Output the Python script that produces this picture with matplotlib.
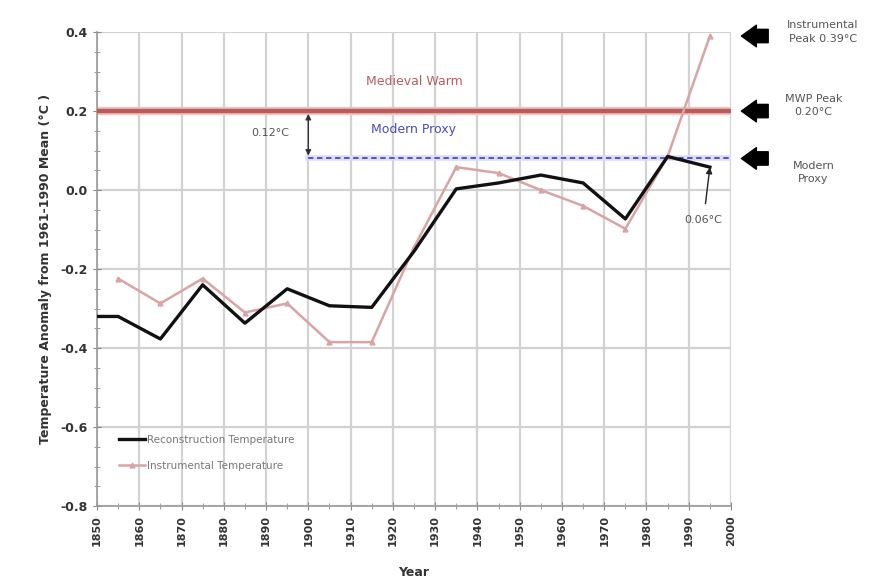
import matplotlib
import matplotlib.pyplot as plt
from matplotlib.ticker import MultipleLocator, FormatStrFormatter

matplotlib.use("Agg")

# data
recon_years = [1850, 1855, 1865, 1875, 1885, 1895, 1905, 1915, 1925, 1935, 1945, 1955, 1965, 1975, 1985, 1995]
recon_temp = [-0.32, -0.32, -0.377, -0.24, -0.337, -0.25, -0.293, -0.297, -0.155, 0.003, 0.018, 0.038, 0.018, -0.073, 0.085, 0.058]

instr_years = [1855, 1865, 1875, 1885, 1895, 1905, 1915, 1925, 1935, 1945, 1955, 1965, 1975, 1985, 1995]
instr_temp = [-0.224, -0.287, -0.224, -0.31, -0.287, -0.385, -0.385, -0.145, 0.058, 0.043, 0.0, -0.04, -0.098, 0.085, 0.39]

mwp_level = 0.20
modern_proxy = 0.08
proxy_start = 1900
instr_peak = 0.39
year_ticks = list(range(1850, 2001, 10))

RED = "#b85c5c"
PINK = "#d8a4a6"
BLUE = "#4a4ab8"
GRAY = "#555555"

fig = plt.figure(figsize=(8.76, 5.83), dpi=100)
ax = fig.add_axes([0.1107, 0.132, 0.7238, 0.813])

ax.set_xlim(1850, 2000)
ax.set_ylim(-0.8, 0.4)
ax.xaxis.set_major_locator(MultipleLocator(10))
ax.xaxis.set_minor_locator(MultipleLocator(5))
ax.yaxis.set_major_locator(MultipleLocator(0.2))
ax.yaxis.set_minor_locator(MultipleLocator(0.05))
ax.yaxis.set_major_formatter(FormatStrFormatter("%.1f"))
ax.set_xticks(year_ticks)
ax.set_xticklabels([str(y) for y in year_ticks], rotation=90, fontsize=8, fontweight="bold", color="#333333")
for lab in ax.get_yticklabels():
    lab.set_fontsize(9)
    lab.set_fontweight("bold")
    lab.set_color("#333333")

ax.grid(True, which="major", color="#d2d2d2", linewidth=1.6)
ax.set_axisbelow(True)
for side in ["top", "right"]:
    ax.spines[side].set_visible(False)
for side in ["left", "bottom"]:
    ax.spines[side].set_color("#999999")
    ax.spines[side].set_linewidth(1.2)
ax.tick_params(which="both", direction="inout", color="#888888")
ax.tick_params(which="major", length=6)
ax.tick_params(which="minor", length=4)

# reference lines
ax.axhline(mwp_level, color="#f4c4c4", linewidth=6, zorder=2)
ax.axhline(mwp_level, color=RED, linewidth=3.2, zorder=3)
ax.plot([proxy_start, 2000], [modern_proxy, modern_proxy], color="#dcdcf4", linewidth=4, zorder=2)
ax.plot([proxy_start, 2000], [modern_proxy, modern_proxy], color=BLUE, linewidth=1.3,
        linestyle=(0, (3, 2)), zorder=3)

ax.text(1925, 0.275, "Medieval Warm", color=RED, fontsize=9, ha="center", va="center")
ax.text(1925, 0.153, "Modern Proxy", color=BLUE, fontsize=9, ha="center", va="center")

# series
ax.plot(instr_years, instr_temp, color=PINK, linewidth=1.8, marker="^", markersize=3.5,
        label="Instrumental Temperature", zorder=4)
ax.plot(recon_years, recon_temp, color="#111111", linewidth=2.4, label="Reconstruction Temperature", zorder=5)

# 0.12 gap arrow
ax.annotate("", xy=(proxy_start, mwp_level), xytext=(proxy_start, modern_proxy),
            arrowprops=dict(arrowstyle="<|-|>", color="#333333", lw=1, mutation_scale=8), zorder=6)
ax.text(1891, 0.144, "0.12°C", color=GRAY, fontsize=8, ha="center", va="center")

# 0.06 annotation
ax.annotate("0.06°C", xy=(recon_years[-1], recon_temp[-1]), xytext=(1993.5, -0.075),
            fontsize=8, color=GRAY, ha="center", va="center",
            arrowprops=dict(arrowstyle="-|>", color="#222222", lw=1, mutation_scale=9,
                            shrinkA=6, shrinkB=0), zorder=6)

# right-hand pointers
right_marks = [
    (0.40, "Instrumental\nPeak 0.39°C", 1.145),
    (0.215, "MWP Peak\n0.20°C", 1.13),
    (0.045, "Modern\nProxy", 1.13),
]
arrow_levels = [instr_peak, mwp_level, modern_proxy]
for lvl in arrow_levels:
    ax.annotate("", xy=(1.012, lvl), xytext=(1.063, lvl),
                xycoords=("axes fraction", "data"), textcoords=("axes fraction", "data"),
                arrowprops=dict(arrowstyle="simple,head_width=1.3,head_length=0.9,tail_width=0.8",
                                color="black", mutation_scale=12), annotation_clip=False)
for lvl, txt, xpos in right_marks:
    ax.text(xpos, lvl, txt, transform=ax.get_yaxis_transform(), fontsize=8, color=GRAY,
            ha="center", va="center", linespacing=1.4, clip_on=False)

ax.set_xlabel("Year", fontsize=9, fontweight="bold", color="#333333", labelpad=14)
ax.set_ylabel("Temperature Anomaly from 1961-1990 Mean (°C )", fontsize=9, fontweight="bold",
              color="#333333", labelpad=6)

handles, labels = ax.get_legend_handles_labels()
ax.legend(handles[::-1], labels[::-1], loc="lower left", bbox_to_anchor=(0.02, 0.055), frameon=False,
          fontsize=7.5, labelcolor="#777777", handlelength=2.5, handletextpad=0.2, labelspacing=1.5)

fig.savefig("out.png", dpi=100)
